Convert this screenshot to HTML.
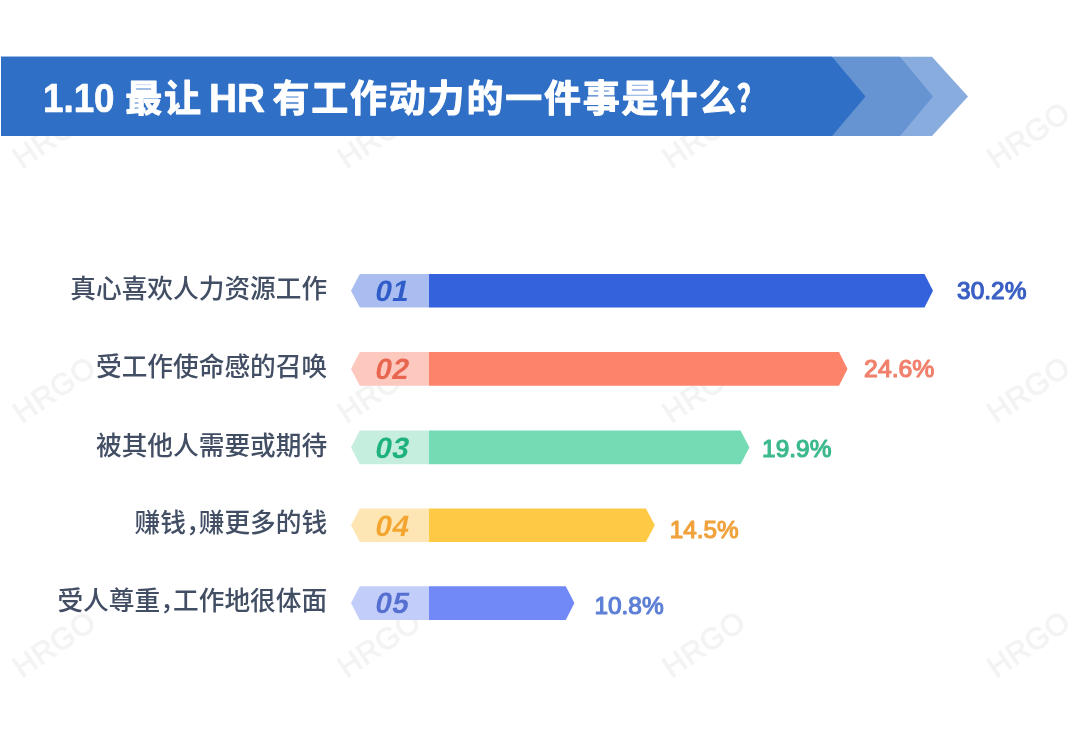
<!DOCTYPE html>
<html lang="zh-CN">
<head>
<meta charset="utf-8">
<title>1.10 最让 HR 有工作动力的一件事是什么？</title>
<style>
  html,body{margin:0;padding:0;background:#fff;}
  body{width:1080px;height:754px;overflow:hidden;position:relative;
       font-family:"Liberation Sans","Noto Sans CJK SC",sans-serif;}
  svg{position:absolute;left:0;top:0;display:block;}
  .wm{font-family:"Liberation Sans",sans-serif;font-weight:400;font-size:30px;fill:#000;stroke:#000;stroke-width:1.1px;opacity:.045;letter-spacing:.6px;text-anchor:middle;}
  .title{font-family:"Liberation Sans","Noto Sans CJK SC",sans-serif;font-weight:700;fill:#fff;stroke:#fff;stroke-width:.7px;stroke-linejoin:round;}
  .tl{font-size:40px;}
  .tc{font-size:37px;letter-spacing:1.8px;stroke-width:1px;}
  .lab{font-family:"Liberation Sans","Noto Sans CJK SC",sans-serif;font-size:25.7px;font-weight:500;fill:#424e64;text-anchor:end;}
  .num{font-family:"Liberation Sans",sans-serif;font-weight:700;font-size:29.5px;letter-spacing:.6px;}
  .pct{font-family:"Liberation Sans",sans-serif;font-weight:400;font-size:24.8px;stroke-width:1.2px;stroke-linejoin:round;}
</style>
</head>
<body>
<svg width="1080" height="754" viewBox="0 0 1080 754">
  <!-- watermarks -->
  <g id="wms">
    <text class="wm" transform="translate(54.0,134.6) rotate(-34)" x="0" y="10.7">HRGO</text>
    <text class="wm" transform="translate(378.8,134.6) rotate(-34)" x="0" y="10.7">HRGO</text>
    <text class="wm" transform="translate(703.5,134.6) rotate(-34)" x="0" y="10.7">HRGO</text>
    <text class="wm" transform="translate(1028.4,134.6) rotate(-34)" x="0" y="10.7">HRGO</text>
    <text class="wm" transform="translate(54.0,389.2) rotate(-34)" x="0" y="10.7">HRGO</text>
    <text class="wm" transform="translate(378.8,389.2) rotate(-34)" x="0" y="10.7">HRGO</text>
    <text class="wm" transform="translate(703.5,389.2) rotate(-34)" x="0" y="10.7">HRGO</text>
    <text class="wm" transform="translate(1028.4,389.2) rotate(-34)" x="0" y="10.7">HRGO</text>
    <text class="wm" transform="translate(54.0,643.7) rotate(-34)" x="0" y="10.7">HRGO</text>
    <text class="wm" transform="translate(378.8,643.7) rotate(-34)" x="0" y="10.7">HRGO</text>
    <text class="wm" transform="translate(703.5,643.7) rotate(-34)" x="0" y="10.7">HRGO</text>
    <text class="wm" transform="translate(1028.4,643.7) rotate(-34)" x="0" y="10.7">HRGO</text>
  </g>

  <!-- header banner -->
  <polygon points="1,56.8 932,56.8 968,96.4 932,136 1,136" fill="#89acdf"/>
  <polygon points="1,56.8 900,56.8 933,96.4 900,136 1,136" fill="#6694d2"/>
  <polygon points="1,56.8 832,56.8 865.5,96.4 832,136 1,136" fill="#2f6fc5"/>
  <text class="title"><tspan class="tl" x="43" y="112" textLength="71.5" lengthAdjust="spacingAndGlyphs">1.10</tspan> <tspan class="tc" x="125.3" y="112.4">最让</tspan> <tspan class="tl" x="209" y="112" textLength="56" lengthAdjust="spacingAndGlyphs">HR</tspan> <tspan class="tc" x="272.4" y="112.4">有工作动力的一件事是什么</tspan><tspan class="tc" x="737" y="112.4" textLength="28" lengthAdjust="spacingAndGlyphs">？</tspan></text>

  <!-- row 1 -->
  <text class="lab" x="327.2" y="297.9">真心喜欢人力资源工作</text>
  <polygon points="351,290.8 359.8,273.9 429,273.9 429,307.6 359.8,307.6" fill="#a9bdf0"/>
  <polygon points="429,273.9 924.5,273.9 933.0,290.8 924.5,307.6 429,307.6" fill="#3461dc"/>
  <text class="num" transform="translate(373.8,300.5) skewX(-12)" fill="#2f5cc8">01</text>
  <text class="pct" x="957.1" y="298.9" fill="#3a5fc4" stroke="#3a5fc4" textLength="69.3" lengthAdjust="spacingAndGlyphs">30.2%</text>
  <!-- row 2 -->
  <text class="lab" x="327.2" y="376.0">受工作使命感的召唤</text>
  <polygon points="351,368.9 359.8,352.0 429,352.0 429,385.7 359.8,385.7" fill="#fdc9bf"/>
  <polygon points="429,352.0 839.0,352.0 847.5,368.9 839.0,385.7 429,385.7" fill="#fd836b"/>
  <text class="num" transform="translate(373.8,378.8) skewX(-12)" fill="#e8654f">02</text>
  <text class="pct" x="864.1" y="377.2" fill="#f0806c" stroke="#f0806c" textLength="70.3" lengthAdjust="spacingAndGlyphs">24.6%</text>
  <!-- row 3 -->
  <text class="lab" x="327.2" y="454.6">被其他人需要或期待</text>
  <polygon points="351,447.5 359.8,430.6 429,430.6 429,464.3 359.8,464.3" fill="#c5eedf"/>
  <polygon points="429,430.6 740.6,430.6 749.4,447.5 740.6,464.3 429,464.3" fill="#75dbb5"/>
  <text class="num" transform="translate(373.8,458.2) skewX(-12)" fill="#1eb27c">03</text>
  <text class="pct" x="762.1" y="456.9" fill="#3cb98c" stroke="#3cb98c" textLength="69.3" lengthAdjust="spacingAndGlyphs">19.9%</text>
  <!-- row 4 -->
  <text class="lab" x="327.2" y="532.4">赚钱<tspan class="cm">，</tspan><tspan dx="-12.8">赚更多的钱</tspan></text>
  <polygon points="351,525.2 359.8,508.4 429,508.4 429,542.1 359.8,542.1" fill="#fee6b4"/>
  <polygon points="429,508.4 645.9,508.4 654.8,525.2 645.9,542.1 429,542.1" fill="#fec944"/>
  <text class="num" transform="translate(373.8,536.2) skewX(-12)" fill="#f3a62f">04</text>
  <text class="pct" x="669.7" y="537.7" fill="#f0a23c" stroke="#f0a23c" textLength="68.9" lengthAdjust="spacingAndGlyphs">14.5%</text>
  <!-- row 5 -->
  <text class="lab" x="327.2" y="610.2">受人尊重<tspan class="cm">，</tspan><tspan dx="-12.8">工作地很体面</tspan></text>
  <polygon points="351,603.1 359.8,586.2 429,586.2 429,619.9 359.8,619.9" fill="#c3cdfa"/>
  <polygon points="429,586.2 565.8,586.2 574.4,603.1 565.8,619.9 429,619.9" fill="#7189f7"/>
  <text class="num" transform="translate(373.8,613.0) skewX(-12)" fill="#5570d0">05</text>
  <text class="pct" x="594.4" y="614.4" fill="#5d7fd6" stroke="#5d7fd6" textLength="69.2" lengthAdjust="spacingAndGlyphs">10.8%</text>
</svg>
</body>
</html>
